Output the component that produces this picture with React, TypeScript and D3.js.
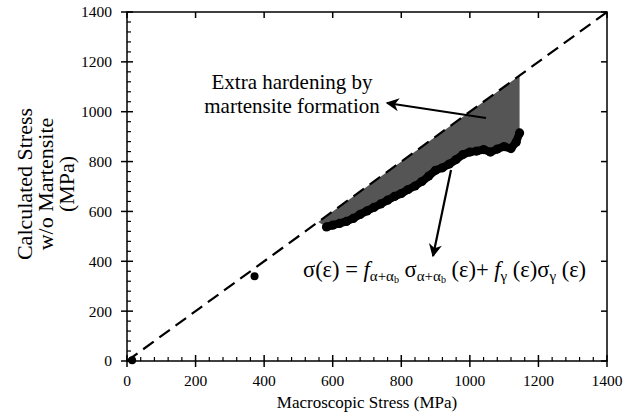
import React from "react";
import * as d3 from "d3";

const W = 627;
const H = 419;

const xTickValues = [0, 200, 400, 600, 800, 1000, 1200, 1400];
const yTickValues = [0, 200, 400, 600, 800, 1000, 1200, 1400];
const minorStep = 40;

// Calculated stress curve (MPa)
const curveX = [582, 600, 620, 640, 660, 680, 700, 720, 740, 760, 780, 800, 820, 840, 860, 880, 900, 920, 940, 960, 980, 1000, 1020, 1040, 1060, 1080, 1100, 1120, 1135, 1145];
const curveY = [538, 545, 552, 560, 572, 588, 602, 616, 630, 645, 660, 672, 688, 702, 720, 742, 765, 775, 790, 808, 828, 838, 842, 848, 838, 850, 860, 852, 878, 915];

// Single points
const pointX = [15, 372];
const pointY = [3, 340];

// identity reference line
const refLine = [0, 1400];
const shadeStartX = 558;

const font = "Liberation Serif, DejaVu Serif, serif";

export default function App() {
  const x = d3.scaleLinear().domain([0, 1400]).range([127, 607]);
  const y = d3.scaleLinear().domain([0, 1400]).range([361, 12]);

  const minors = d3.range(0, 1400 + 1, minorStep).filter((v) => v % 200 !== 0);

  const line = d3
    .line<number>()
    .x((_, i) => x(curveX[i]))
    .y((_, i) => y(curveY[i]))
    .curve(d3.curveLinear);

  const last = curveX.length - 1;
  const shadePts: [number, number][] = [
    [shadeStartX, shadeStartX],
    [curveX[last], curveX[last]],
    ...curveX.map((cx, i) => [cx, curveY[i]] as [number, number]).reverse(),
  ];
  const shadePath = d3
    .line<[number, number]>()
    .x((d) => x(d[0]))
    .y((d) => y(d[1]))(shadePts) + "Z";

  const subSize = 15;
  const subSub = 10;
  const ts = { fontFamily: font } as React.CSSProperties;

  return (
    <svg
      width={W}
      height={H}
      style={{ position: "absolute", left: 0, top: 0, background: "#fff", fontFamily: font }}
    >
      <defs>
        <marker id="ah" viewBox="0 0 10 10" refX="9" refY="5" markerWidth="7" markerHeight="6" orient="auto" markerUnits="strokeWidth">
          <path d="M0,0 L10,5 L0,10 L3,5 Z" fill="#000" />
        </marker>
      </defs>

      {/* shaded area */}
      <path d={shadePath} fill="#555" stroke="none" />

      {/* dashed identity line */}
      <line
        x1={x(refLine[0])}
        y1={y(refLine[0])}
        x2={x(refLine[1])}
        y2={y(refLine[1])}
        stroke="#000"
        strokeWidth={2.2}
        strokeDasharray="13,7"
      />

      {/* calculated curve */}
      <path d={line(curveX) || ""} fill="none" stroke="#000" strokeWidth={8} strokeLinejoin="round" strokeLinecap="round" />
      {curveX.map((cx, i) => (
        <circle key={i} cx={x(cx)} cy={y(curveY[i])} r={4.6} fill="#000" />
      ))}

      {pointX.map((px, i) => (
        <circle key={"p" + i} cx={x(px)} cy={y(pointY[i])} r={4} fill="#000" />
      ))}

      {/* frame */}
      <rect x={x(0)} y={y(1400)} width={x(1400) - x(0)} height={y(0) - y(1400)} fill="none" stroke="#000" strokeWidth={1.5} />

      {/* left axis ticks */}
      {yTickValues.map((v) => (
        <g key={"yl" + v}>
          <line x1={x(0) - 6} x2={x(0) + 6} y1={y(v)} y2={y(v)} stroke="#000" strokeWidth={1.5} />
          <line x1={x(1400) - 6} x2={x(1400)} y1={y(v)} y2={y(v)} stroke="#000" strokeWidth={1.5} />
          <text style={ts} x={x(0) - 15} y={y(v)} dy="0.35em" textAnchor="end" fontSize={15.5}>
            {v}
          </text>
        </g>
      ))}
      {minors.map((v) => (
        <g key={"m" + v}>
          <line x1={x(0)} x2={x(0) + 4} y1={y(v)} y2={y(v)} stroke="#000" strokeWidth={1.2} />
          <line x1={x(v)} x2={x(v)} y1={y(0)} y2={y(0) - 4} stroke="#000" strokeWidth={1.2} />
        </g>
      ))}
      {xTickValues.map((v) => (
        <g key={"xb" + v}>
          <line x1={x(v)} x2={x(v)} y1={y(0) - 6} y2={y(0) + 6} stroke="#000" strokeWidth={1.5} />
          <line x1={x(v)} x2={x(v)} y1={y(1400)} y2={y(1400) + 6} stroke="#000" strokeWidth={1.5} />
          <text style={ts} x={x(v)} y={y(0) + 25} textAnchor="middle" fontSize={15.5}>
            {v}
          </text>
        </g>
      ))}

      {/* axis titles */}
      <text style={ts} x={367} y={408} textAnchor="middle" fontSize={17}>
        Macroscopic Stress (MPa)
      </text>
      <g transform="translate(0,184) rotate(-90)" fontSize={22} textAnchor="middle">
        <text style={ts} x={0} y={32}>Calculated Stress</text>
        <text style={ts} x={0} y={53}>w/o Martensite</text>
        <text style={ts} x={0} y={74}>(MPa)</text>
      </g>

      {/* annotation 1 */}
      <text style={ts} x={292} y={89} textAnchor="middle" fontSize={21}>
        Extra hardening by
      </text>
      <text style={ts} x={292} y={113} textAnchor="middle" fontSize={21}>
        martensite formation
      </text>
      <line x1={486} y1={118} x2={387} y2={103} stroke="#000" strokeWidth={2.2} markerEnd="url(#ah)" />

      {/* annotation 2 */}
      <line x1={451} y1={170} x2={433} y2={256} stroke="#000" strokeWidth={2.2} markerEnd="url(#ah)" />
      <text style={ts} x={303} y={277} fontSize={22.5}>
        <tspan>σ(ε) = </tspan>
        <tspan fontStyle="italic">f</tspan>
        <tspan fontSize={subSize} dy={4}>α+α</tspan>
        <tspan fontSize={subSub} dy={2}>b</tspan>
        <tspan dy={-6}> σ</tspan>
        <tspan fontSize={subSize} dy={4}>α+α</tspan>
        <tspan fontSize={subSub} dy={2}>b</tspan>
        <tspan dy={-6}> (ε)+ </tspan>
        <tspan fontStyle="italic">f</tspan>
        <tspan fontSize={subSize} dy={4}>γ</tspan>
        <tspan dy={-4}> (ε)σ</tspan>
        <tspan fontSize={subSize} dy={4}>γ</tspan>
        <tspan dy={-4}> (ε)</tspan>
      </text>
    </svg>
  );
}
